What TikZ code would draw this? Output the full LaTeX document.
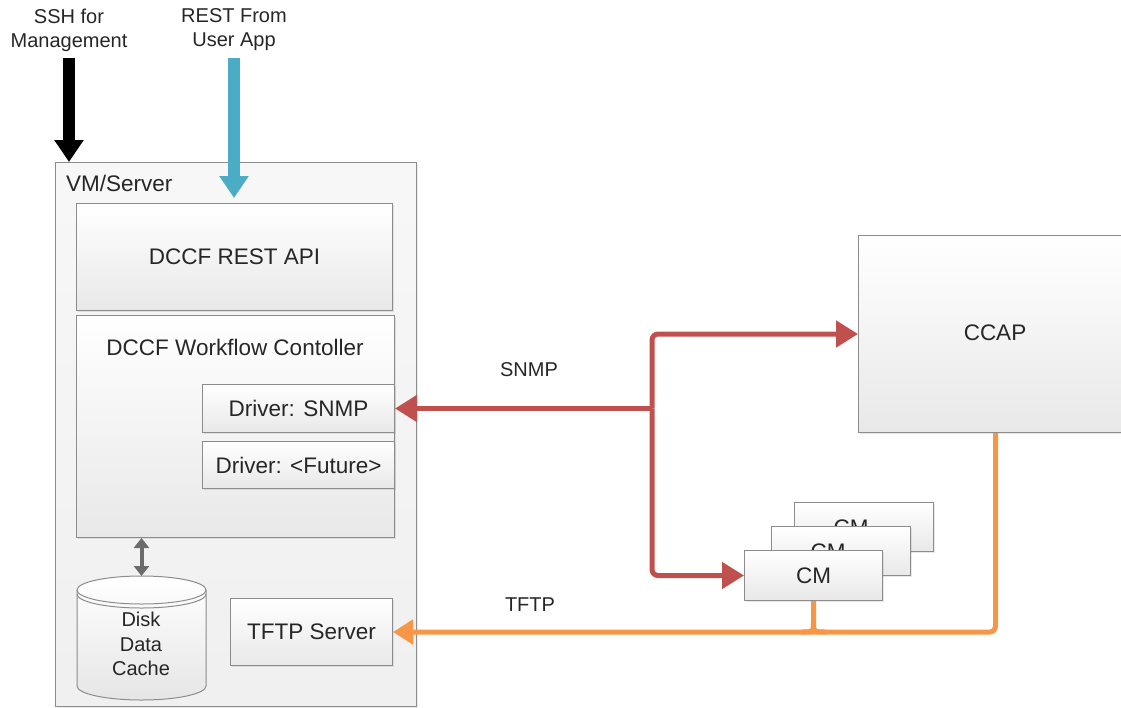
\documentclass[tikz,border=0pt]{standalone}
\usepackage{fontspec}
\setmainfont{Liberation Sans}
\usetikzlibrary{arrows.meta,shadows}

\definecolor{txt}{HTML}{262626}
\definecolor{edge}{HTML}{8C8C8C}
\definecolor{snmpred}{HTML}{C0504D}
\definecolor{tftporange}{HTML}{F79646}
\definecolor{restblue}{HTML}{4BACC6}
\definecolor{linkgray}{HTML}{6B6B6B}

\tikzset{
  big/.style={font=\fontsize{22.5}{27}\selectfont},
  small/.style={font=\fontsize{20}{24}\selectfont},
  compbox/.style={draw=edge, line width=1pt, top color=white, bottom color=black!9,
    anchor=north west, inner sep=0pt, text=txt, big,
    drop shadow={shadow xshift=1.5pt, shadow yshift=-1.5pt, opacity=0.18}},
  hostbox/.style={draw=edge, line width=1pt, top color=black!3, bottom color=black!6,
    anchor=north west, inner sep=0pt,
    drop shadow={shadow xshift=1.5pt, shadow yshift=-1.5pt, opacity=0.15}},
  lbl/.style={text=txt, small, align=center},
  snmpline/.style={draw=snmpred, line width=5pt, rounded corners=6pt,
    -{Triangle[length=22pt,width=26pt]}},
  tftpline/.style={draw=tftporange, line width=5pt, rounded corners=6pt},
  tftphead/.style={-{Triangle[length=20pt,width=24pt]}},
  bigarrow/.style={line width=12pt, -{Triangle[length=22pt,width=28pt]}},
}

\begin{document}
\begin{tikzpicture}[x=1pt, y=-1pt]
\useasboundingbox (0,0) rectangle (1121,707);

% host and its components
\node[hostbox, minimum width=361pt, minimum height=544pt] (vm) at (55,162) {};
\node[anchor=west, text=txt, big, inner sep=0pt] (vmlabel) at (66,183) {VM/Server};

\node[compbox, minimum width=316pt, minimum height=107pt] (api) at (76,203) {};
\node[text=txt, big, inner sep=0pt] (apitext) at (api.center) {DCCF REST API};

\node[compbox, minimum width=318pt, minimum height=222pt] (wf) at (76,315) {};
\node[text=txt, big, inner sep=0pt] (wftext) at (235,347) {DCCF Workflow Contoller};

\node[compbox, minimum width=192pt, minimum height=48pt] (drvsnmp) at (202,384) {Driver: SNMP};
\node[compbox, minimum width=192pt, minimum height=47pt] (drvfut) at (202,441) {Driver: <Future>};

\node[compbox, minimum width=162pt, minimum height=67pt] (tftp) at (230,598) {TFTP Server};

% disk cache cylinder
\coordinate (disktop) at (141.5,576);
\shade[top color=white, bottom color=black!10]
  (77,590) -- (77,686) arc[start angle=180, end angle=0, x radius=64.5, y radius=14]
  -- (206,590) arc[start angle=0, end angle=-180, x radius=64.5, y radius=14] -- cycle;
\draw[edge, line width=1pt]
  (77,590) -- (77,686) arc[start angle=180, end angle=0, x radius=64.5, y radius=14] -- (206,590);
\draw[edge, line width=1pt] (141.5,590) ellipse[x radius=64.5, y radius=14];
\draw[edge, line width=1pt] (77,594) arc[start angle=180, end angle=0, x radius=64.5, y radius=14];
\node[lbl, inner sep=0pt, font=\fontsize{20}{24.5}\selectfont] (disk) at (141,644) {Disk\\Data\\Cache};

\draw[linkgray, line width=4pt, {Triangle[length=10pt,width=15pt]}-{Triangle[length=10pt,width=15pt]}]
  (wf.south -| disktop) -- (disktop);

% external equipment
\node[compbox, minimum width=274pt, minimum height=197pt] (ccap) at (858,235) {};
\node[text=txt, big, inner sep=0pt] (ccaptext) at (995,333) {CCAP};

\node[compbox, minimum width=139pt, minimum height=49pt] (cm3) at (794,502) {};
\node[text=txt, big, inner sep=0pt, anchor=base] (cm3text) at (851,535) {CM};
\node[compbox, minimum width=139pt, minimum height=49pt] (cm2) at (771,526) {};
\node[text=txt, big, inner sep=0pt, anchor=base] (cm2text) at (828,559) {CM};
\node[compbox, minimum width=138pt, minimum height=50pt] (cm1) at (744,550) {CM};

% management and REST entry arrows
\coordinate (sshsrc) at (69,58);
\coordinate (sshtip) at (69,162);
\coordinate (restsrc) at (234,58);
\coordinate (resttip) at (234,198);
\node[lbl] (sshlbl) at (69,30) {SSH for\\Management};
\node[lbl] (restlbl) at (234,30) {REST From\\User App};
\draw[black, bigarrow] (sshsrc) -- (sshtip);
\draw[restblue, bigarrow] (restsrc) -- (resttip);

% SNMP paths
\coordinate (splitx) at (652,0);
\coordinate (split) at (splitx |- drvsnmp.east);
\draw[snmpline] (split) -- (drvsnmp.east);
\draw[snmpline] (split) |- (ccap.west);
\draw[snmpline] (split) |- (cm1.west);
\node[lbl] (snmplbl) at (529,370) {SNMP};

% TFTP paths: cable-modem drop joins the trunk with fillets on both sides
\coordinate (join) at (cm1.south |- tftp.east);
\draw[tftpline, tftphead] (ccap.south) |- (tftp.east);
\draw[tftpline, rounded corners=0pt] (cm1.south) -- ([yshift=12pt]join)
  .. controls (join) .. ([xshift=-12pt]join);
\draw[tftpline, rounded corners=0pt] ([yshift=12pt]join)
  .. controls (join) .. ([xshift=12pt]join);
\node[lbl] (tftplbl) at (530,605) {TFTP};
\end{tikzpicture}
\end{document}
